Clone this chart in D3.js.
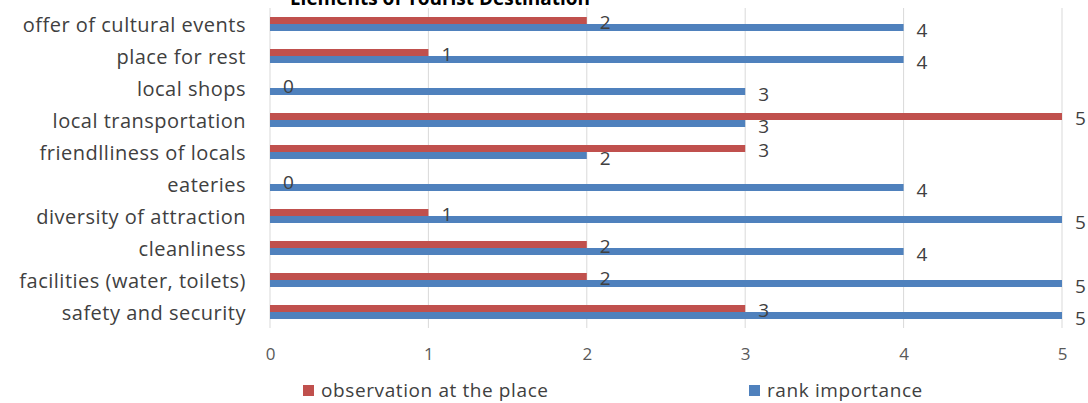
<!DOCTYPE html>
<html><head><meta charset="utf-8">
<script src="https://cdn.jsdelivr.net/npm/d3@7"></script>
<style>body{margin:0;background:#fff}</style>
</head><body>
<svg id="c" width="1088" height="403"></svg>
<script>
const categories = ["offer of cultural events","place for rest","local shops","local transportation","friendlliness of locals","eateries","diversity of attraction","cleanliness","facilities (water, toilets)","safety and security"];
const observation = [2,1,0,5,3,0,1,2,2,3];
const rankImportance = [4,4,3,3,2,4,5,4,5,5];
const xTicks = [0,1,2,3,4,5];
const seriesNames = ["observation at the place","rank importance"];
const title = "Elements of Tourist Destination";

const FONT = "'Open Sans', sans-serif";
const RED = "#C0504D", BLUE = "#4F81BD";
const svg = d3.select("#c");
const x = d3.scaleLinear().domain([0,5]).range([270,1062]);
const y = d3.scaleBand().domain(categories).range([8,328]);
const bh = 7;

// gridlines
svg.append("g").selectAll("line").data(xTicks).join("line")
  .attr("x1", d=>x(d)).attr("x2", d=>x(d)).attr("y1", 8).attr("y2", 328)
  .attr("stroke", "#D9D9D9").attr("stroke-width", 1);

// x axis labels
const xa = svg.append("g").attr("transform","translate(0,345)")
  .call(d3.axisBottom(x).tickValues(xTicks).tickSize(0).tickFormat(d3.format("d")));
xa.select(".domain").remove();
xa.selectAll("text").attr("font-family", FONT).attr("font-size", 17).attr("fill","#595959");

// y axis labels
const ya = svg.append("g").attr("transform","translate(246,0)")
  .call(d3.axisLeft(y).tickSize(0).tickPadding(0));
ya.select(".domain").remove();
ya.selectAll("text").attr("font-family", FONT).attr("font-size", 20).attr("letter-spacing", "0.5px")
  .attr("fill","#404040").attr("dy","0.4em");

const rows = categories.map((c,i)=>({c, o: observation[i], r: rankImportance[i]}));
const cy = d => y(d.c) + y.bandwidth()/2;

// bars
svg.append("g").selectAll("rect").data(rows).join("rect")
  .attr("x", x(0)).attr("y", d=>cy(d)-bh).attr("width", d=>x(d.o)-x(0)).attr("height", bh).attr("fill", RED);
svg.append("g").selectAll("rect").data(rows).join("rect")
  .attr("x", x(0)).attr("y", d=>cy(d)).attr("width", d=>x(d.r)-x(0)).attr("height", bh).attr("fill", BLUE);

// data labels
svg.append("g").selectAll("text").data(rows).join("text")
  .attr("x", d=>x(d.o)+13).attr("y", d=>cy(d)-bh/2+2).attr("dy","0.36em")
  .attr("font-family", FONT).attr("font-size", 19).attr("fill","#404040").text(d=>d.o);
svg.append("g").selectAll("text").data(rows).join("text")
  .attr("x", d=>x(d.r)+13).attr("y", d=>cy(d)+bh/2+3).attr("dy","0.36em")
  .attr("font-family", FONT).attr("font-size", 19).attr("fill","#404040").text(d=>d.r);

// title
svg.append("text").attr("x", 440).attr("y", 5).attr("text-anchor","middle")
  .attr("font-family", FONT).attr("font-weight","bold").attr("font-size", 19).attr("fill","#000").text(title);

// legend
const leg = [{n: seriesNames[0], c: RED, x: 303}, {n: seriesNames[1], c: BLUE, x: 749}];
const lg = svg.append("g").selectAll("g").data(leg).join("g").attr("transform", d=>`translate(${d.x},385)`);
lg.append("rect").attr("width", 11).attr("height", 11).attr("fill", d=>d.c);
lg.append("text").attr("x", 18).attr("y", 5.5).attr("dy","0.34em")
  .attr("font-family", FONT).attr("font-size", 19).attr("letter-spacing", "0.6px")
  .attr("fill","#404040").text(d=>d.n);
</script>
</body></html>
